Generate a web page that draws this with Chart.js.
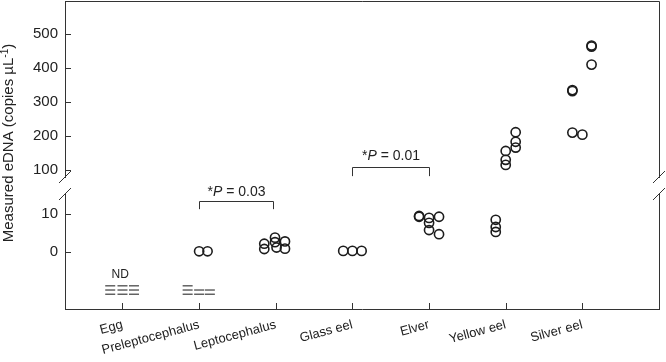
<!DOCTYPE html>
<html><head><meta charset="utf-8">
<script src="https://cdn.jsdelivr.net/npm/chart.js@4/dist/chart.umd.min.js"></script>
<style>html,body{margin:0;padding:0;background:#fff}#wrap{width:666px;height:362px}</style>
</head><body><div id="wrap"><canvas id="c" width="666" height="362"></canvas></div>
<script>
const categories = ['Egg','Preleptocephalus','Leptocephalus','Glass eel','Elver','Yellow eel','Silver eel'];
const yTicksLower = [0, 10];
const yTicksUpper = [100, 200, 300, 400, 500];

// measured eDNA (copies µL-1) per stage; jitter = horizontal spread in category units
const eggValues = [];
const eggJitter = [];
const preleptoValues = [0.2, 0.2];
const preleptoJitter = [0, 0.11];
const leptoValues = [2.2, 0.8, 3.8, 2.6, 1.2, 2.8, 0.9];
const leptoJitter = [-0.15, -0.15, -0.01, -0.01, 0.01, 0.12, 0.12];
const glassValues = [0.3, 0.3, 0.3];
const glassJitter = [-0.12, 0, 0.12];
const elverValues = [9.5, 9.3, 9.0, 9.3, 7.7, 5.8, 4.7];
const elverJitter = [-0.13, -0.13, 0, 0.13, 0, 0, 0.13];
const yellowValues = [8.5, 6.6, 5.3, 156, 130, 115, 211, 183, 166];
const yellowJitter = [-0.13, -0.13, -0.13, 0, 0, 0, 0.13, 0.13, 0.13];
const silverValues = [335, 332, 210, 204, 466, 463, 410];
const silverJitter = [-0.13, -0.13, -0.13, 0, 0.12, 0.12, 0.12];

// not-detected (ND) markers drawn below zero
const ndCategory = [0,0,0,0,0,0,0,0,0, 1,1,1,1,1,1,1];
const ndJitter = [-0.16,-0.16,-0.16, 0,0,0, 0.15,0.15,0.15, -0.15,-0.15,-0.15, 0,0, 0.14,0.14];
const ndLevel = [-8.9,-10,-11.1, -8.9,-10,-11.1, -8.9,-10,-11.1, -8.9,-10,-11.1, -10,-11.1, -10,-11.1];

// significance annotations
const sigLabels = ['0.03', '0.01'];
const sigFrom = [1, 3];
const sigTo = [1.97, 4];

const BREAK = 50;
const allValues = [eggValues, preleptoValues, leptoValues, glassValues, elverValues, yellowValues, silverValues];
const allJitter = [eggJitter, preleptoJitter, leptoJitter, glassJitter, elverJitter, yellowJitter, silverJitter];
const lowerPts = [], upperPts = [];
allValues.forEach((vals, i) => vals.forEach((v, j) => {
  const p = {x: i + allJitter[i][j], y: v};
  (v >= BREAK ? upperPts : lowerPts).push(p);
}));
const ndPts = ndCategory.map((c, i) => ({x: c + ndJitter[i], y: ndLevel[i]}));

const FONT = "'Liberation Sans', Arial, Helvetica, sans-serif";
const INK = '#222';
const LINE = '#333';

const noPad = s => { s.paddingTop = 0; s.paddingBottom = 0; s.paddingLeft = 0; s.paddingRight = 0; };

const annot = {
  id: 'annot',
  afterDraw(chart) {
    const {ctx, chartArea: a, scales: {x, y, y2}} = chart;
    ctx.save();
    ctx.strokeStyle = LINE; ctx.lineWidth = 1;
    // top and right frame
    ctx.beginPath();
    ctx.moveTo(a.left, Math.round(a.top) + 0.5);
    ctx.lineTo(Math.round(a.right) + 0.5, Math.round(a.top) + 0.5);
    ctx.lineTo(Math.round(a.right) + 0.5, a.bottom);
    ctx.stroke();
    // inward ticks
    ctx.beginPath();
    [[y, yTicksLower], [y2, yTicksUpper]].forEach(([s, t]) => t.forEach(v => {
      const py = Math.round(s.getPixelForValue(v)) + 0.5;
      ctx.moveTo(a.left, py); ctx.lineTo(a.left + 6, py);
    }));
    categories.forEach((c, i) => {
      const px = Math.round(x.getPixelForValue(i)) + 0.5;
      ctx.moveTo(px, a.bottom); ctx.lineTo(px, a.bottom - 6);
    });
    ctx.stroke();
    // axis breaks
    const b = y2.bottom;
    [a.left, a.right].forEach(ax => {
      ctx.fillStyle = '#fff';
      ctx.fillRect(ax - 2, b - 8, 4, 16);
      ctx.beginPath();
      ctx.moveTo(ax - 6, b - 3); ctx.lineTo(ax + 6, b - 15);
      ctx.moveTo(ax - 6, b + 14); ctx.lineTo(ax + 6, b + 2);
      ctx.stroke();
    });
    // significance brackets
    ctx.fillStyle = INK;
    const brackets = [
      {s: y, top: 13.4, leg: 11.3, text: 14.7},
      {s: y2, top: 109, leg: 82, text: 129}
    ];
    brackets.forEach((br, k) => {
      const x1 = Math.round(x.getPixelForValue(sigFrom[k])) + 0.5;
      const x2 = Math.round(x.getPixelForValue(sigTo[k])) + 0.5;
      const yt = Math.round(br.s.getPixelForValue(br.top)) + 0.5;
      const yl = br.s.getPixelForValue(br.leg);
      ctx.beginPath();
      ctx.moveTo(x1, yl); ctx.lineTo(x1, yt); ctx.lineTo(x2, yt); ctx.lineTo(x2, yl);
      ctx.stroke();
      const ty = br.s.getPixelForValue(br.text);
      const parts = [['*', 'normal'], ['P', 'italic'], [' = ' + sigLabels[k], 'normal']];
      let w = 0;
      parts.forEach(p => { ctx.font = p[1] + ' 14px ' + FONT; w += ctx.measureText(p[0]).width; });
      let cx = (x1 + x2) / 2 - w / 2;
      ctx.textBaseline = 'alphabetic'; ctx.textAlign = 'left';
      parts.forEach(p => { ctx.font = p[1] + ' 14px ' + FONT; ctx.fillText(p[0], cx, ty); cx += ctx.measureText(p[0]).width; });
    });
    // ND label
    ctx.font = '12px ' + FONT; ctx.textAlign = 'center'; ctx.textBaseline = 'middle';
    ctx.fillText('ND', x.getPixelForValue(-0.03), y.getPixelForValue(-6));
    // y-axis title
    ctx.translate(9, 143); ctx.rotate(-Math.PI / 2);
    const main = 'Measured eDNA (copies µL', sup = '-1', close = ')';
    ctx.font = '15px ' + FONT; const w1 = ctx.measureText(main).width, w3 = ctx.measureText(close).width;
    ctx.font = '10px ' + FONT; const w2 = ctx.measureText(sup).width;
    let sx = -(w1 + w2 + w3) / 2;
    ctx.textAlign = 'left'; ctx.textBaseline = 'middle';
    ctx.font = '15px ' + FONT; ctx.fillText(main, sx, 0); sx += w1;
    ctx.font = '10px ' + FONT; ctx.fillText(sup, sx, -4); sx += w2;
    ctx.font = '15px ' + FONT; ctx.fillText(close, sx, 0);
    ctx.restore();
  }
};

const circle = {pointStyle: 'circle', pointRadius: 4.6, pointBorderWidth: 1.6, pointBorderColor: '#1c1c1c', pointBackgroundColor: 'rgba(0,0,0,0)', pointHoverRadius: 4.6};

new Chart(document.getElementById('c'), {
  type: 'scatter',
  data: {datasets: [
    Object.assign({label: 'detected', data: lowerPts, yAxisID: 'y'}, circle),
    Object.assign({label: 'detected high', data: upperPts, yAxisID: 'y2'}, circle),
    {label: 'ND', data: ndPts, yAxisID: 'y', pointStyle: 'line', pointRadius: 5, pointBorderWidth: 1.1, pointBorderColor: '#2a2a2a', borderColor: '#2a2a2a'}
  ]},
  options: {
    responsive: false, animation: false, devicePixelRatio: 1,
    layout: {autoPadding: false, padding: {top: 1, right: 7, left: 0, bottom: 0}},
    plugins: {legend: {display: false}, tooltip: {enabled: false}},
    events: [],
    scales: {
      x: {
        type: 'linear', min: -0.75, max: 7,
        afterBuildTicks: s => { s.ticks = categories.map((c, i) => ({value: i})); },
        afterFit: s => { s.height = 53; noPad(s); },
        grid: {display: false, drawTicks: false},
        border: {display: true, color: LINE, width: 1},
        ticks: {minRotation: 15, maxRotation: 15, padding: 8, autoSkip: false, color: INK,
          font: {family: FONT, size: 13}, callback: v => categories[v]}
      },
      y: {
        type: 'linear', position: 'left', stack: 'v', stackWeight: 123, weight: 0,
        min: -15, max: 17.4,
        afterBuildTicks: s => { s.ticks = yTicksLower.map(v => ({value: v})); },
        afterFit: s => { s.width = 65; noPad(s); },
        grid: {display: false, drawTicks: false},
        border: {display: true, color: LINE, width: 1},
        ticks: {padding: 7, color: INK, font: {family: FONT, size: 15}}
      },
      y2: {
        type: 'linear', position: 'left', stack: 'v', stackWeight: 185, weight: 1,
        min: 53, max: 597,
        afterBuildTicks: s => { s.ticks = yTicksUpper.map(v => ({value: v})); },
        afterFit: s => { s.width = 65; noPad(s); },
        grid: {display: false, drawTicks: false},
        border: {display: true, color: LINE, width: 1},
        ticks: {padding: 7, color: INK, font: {family: FONT, size: 15}}
      }
    }
  },
  plugins: [annot]
});
</script></body></html>
